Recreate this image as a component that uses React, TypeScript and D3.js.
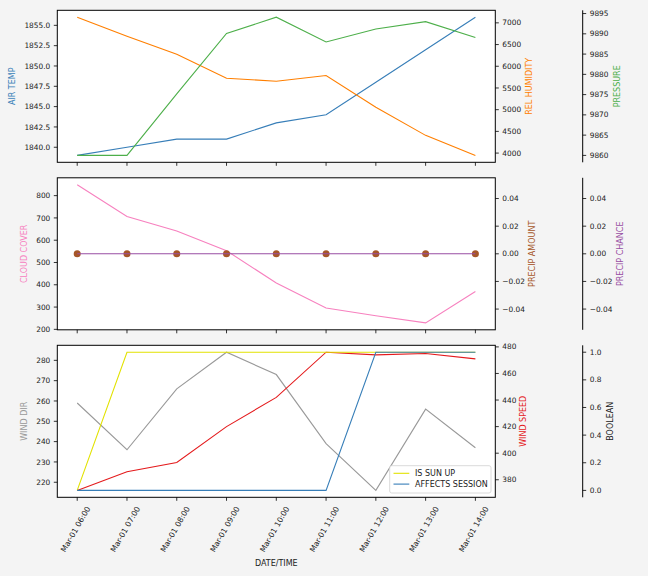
import React from "react";
import * as d3 from "d3";

const times = [
  "2024-03-01T06:00", "2024-03-01T07:00", "2024-03-01T08:00", "2024-03-01T09:00",
  "2024-03-01T10:00", "2024-03-01T11:00", "2024-03-01T12:00", "2024-03-01T13:00",
  "2024-03-01T14:00",
];
const airTemp = [1839, 1840, 1841, 1841, 1843, 1844, 1848, 1852, 1856];
const relHumidity = [7130, 6693, 6278, 5724, 5655, 5786, 5054, 4408, 3947];
const pressure = [9860, 9860, 9875.2, 9890.1, 9894.1, 9888.0, 9891.2, 9893.0, 9889.1];
const cloudCover = [849, 706, 641, 553, 408, 296, 261, 229, 370];
const precipAmount = [0, 0, 0, 0, 0, 0, 0, 0, 0];
const precipChance = [0, 0, 0, 0, 0, 0, 0, 0, 0];
const windDir = [259, 236, 266, 284, 273, 239, 216, 256, 237];
const windSpeed = [372, 386, 393, 420, 442, 476, 474, 475, 471];
const isSunUp = [0, 1, 1, 1, 1, 1, 1, 1, 1];
const affectsSession = [0, 0, 0, 0, 0, 0, 1, 1, 1];

const airTempTicks = [1840, 1842.5, 1845, 1847.5, 1850, 1852.5, 1855];
const relHumTicks = [4000, 4500, 5000, 5500, 6000, 6500, 7000];
const pressureTicks = [9860, 9865, 9870, 9875, 9880, 9885, 9890, 9895];
const cloudTicks = [200, 300, 400, 500, 600, 700, 800];
const precipTicks = [-0.04, -0.02, 0, 0.02, 0.04];
const windDirTicks = [220, 230, 240, 250, 260, 270, 280];
const windSpeedTicks = [380, 400, 420, 440, 460, 480];
const boolTicks = [0, 0.2, 0.4, 0.6, 0.8, 1.0];

const C = {
  blue: "#377eb8",
  orange: "#ff7f00",
  green: "#4daf4a",
  pink: "#f781bf",
  brown: "#a65628",
  purple: "#984ea3",
  gray: "#999999",
  red: "#e41a1c",
  yellow: "#e2e200",
};

const W = 648, H = 576;
const L = 57.3, R = 495.3, SP = 582.7;
const PH = 152;
const tops = [10.3, 177.8, 345.3];
const FONT = "DejaVu Sans, sans-serif";
const TF = 7.4;
const XF = 7.7;
const LF = 8;

const dates = times.map((t) => new Date(t));
const step = 3600 * 1000;
const x = d3
  .scaleTime()
  .domain([new Date(+dates[0] - 0.4 * step), new Date(+dates[dates.length - 1] + 0.4 * step)])
  .range([L, R]);
const fmtDate = d3.timeFormat("%b-%d %H:%M");

function padDomain(vals: number[], fallback?: [number, number]): [number, number] {
  const mn = d3.min(vals)!, mx = d3.max(vals)!;
  if (mx === mn) return fallback || [mn - 0.055, mn + 0.055];
  const m = (mx - mn) * 0.05;
  return [mn - m, mx + m];
}

function yScale(vals: number[], top: number, fallback?: [number, number]) {
  return d3.scaleLinear().domain(padDomain(vals, fallback)).range([top + PH, top]);
}

function YAxis({ scale, ticks, fmt, side, xPos, spine }: any) {
  const dir = side === "left" ? -1 : 1;
  const [r0, r1] = scale.range();
  return (
    <g>
      {spine && <line x1={xPos} x2={xPos} y1={r0} y2={r1} stroke="#000" strokeWidth={1} />}
      {ticks.map((t: number) => {
        const y = scale(t);
        return (
          <g key={t}>
            <line x1={xPos} x2={xPos + dir * 3.5} y1={y} y2={y} stroke="#000" strokeWidth={0.8} />
            <text
              x={xPos + dir * 7}
              y={y}
              dy="0.35em"
              textAnchor={side === "left" ? "end" : "start"}
              fontSize={TF}
              fontFamily={FONT}
              fill="#222"
            >
              {fmt(t)}
            </text>
          </g>
        );
      })}
    </g>
  );
}

function YLabel({ text, xPos, top, color }: any) {
  const cy = top + PH / 2;
  return (
    <text
      transform={`translate(${xPos},${cy}) rotate(-90)`}
      textAnchor="middle"
      dominantBaseline="central"
      fontSize={LF}
      fontFamily={FONT}
      fill={color}
    >
      {text}
    </text>
  );
}

function Series({ scale, vals, color }: any) {
  const line = d3
    .line<number>()
    .x((_, i) => x(dates[i]))
    .y((v) => scale(v));
  return <path d={line(vals) || ""} fill="none" stroke={color} strokeWidth={1.1} />;
}

function Frame({ top, showXLabels }: any) {
  return (
    <g>
      {dates.map((d, i) => (
        <line key={i} x1={x(d)} x2={x(d)} y1={top + PH} y2={top + PH + 3.5} stroke="#000" strokeWidth={0.8} />
      ))}
      {showXLabels &&
        dates.map((d, i) => (
          <text
            key={"l" + i}
            transform={`translate(${x(d) - 1.5},${top + PH + 32}) rotate(-60)`}
            textAnchor="middle"
            dominantBaseline="central"
            fontSize={XF}
            fontFamily={FONT}
            fill="#222"
          >
            {fmtDate(d)}
          </text>
        ))}
    </g>
  );
}

export default function App() {
  const t0 = tops[0], t1 = tops[1], t2 = tops[2];
  const yAir = yScale(airTemp, t0);
  const yHum = yScale(relHumidity, t0);
  const yPres = yScale(pressure, t0);
  const yCloud = yScale(cloudCover, t1);
  const yPA = yScale(precipAmount, t1);
  const yPC = yScale(precipChance, t1);
  const yWD = yScale(windDir, t2);
  const yWS = yScale(windSpeed, t2);
  const yB = d3.scaleLinear().domain([-0.05, 1.05]).range([t2 + PH, t2]);

  const f1 = d3.format(".1f");
  const f0 = d3.format("d");
  const f2 = d3.format(".2f");

  return (
    <svg width={W} height={H} style={{ position: "absolute", left: 0, top: 0 }} xmlns="http://www.w3.org/2000/svg">
      <rect x={0} y={0} width={W} height={H} fill="#f4f4f4" />
      {tops.map((t, i) => (
        <rect key={i} x={L} y={t} width={R - L} height={PH} fill="#fff" />
      ))}

      {/* Panel 1 */}
      <Series scale={yAir} vals={airTemp} color={C.blue} />
      <Series scale={yHum} vals={relHumidity} color={C.orange} />
      <Series scale={yPres} vals={pressure} color={C.green} />
      <YAxis scale={yAir} ticks={airTempTicks} fmt={f1} side="left" xPos={L} />
      <YAxis scale={yHum} ticks={relHumTicks} fmt={f0} side="right" xPos={R} />
      <YAxis scale={yPres} ticks={pressureTicks} fmt={f0} side="right" xPos={SP} spine />
      <YLabel text="AIR TEMP" xPos={12.5} top={t0} color={C.blue} />
      <YLabel text="REL HUMIDITY" xPos={529.5} top={t0} color={C.orange} />
      <YLabel text="PRESSURE" xPos={617} top={t0} color={C.green} />
      <Frame top={t0} />

      {/* Panel 2 */}
      <Series scale={yCloud} vals={cloudCover} color={C.pink} />
      {precipAmount.map((v, i) => (
        <circle key={i} cx={x(dates[i])} cy={yPA(v)} r={3.5} fill={C.brown} />
      ))}
      <Series scale={yPC} vals={precipChance} color={C.purple} />
      <YAxis scale={yCloud} ticks={cloudTicks} fmt={f0} side="left" xPos={L} />
      <YAxis scale={yPA} ticks={precipTicks} fmt={f2} side="right" xPos={R} />
      <YAxis scale={yPC} ticks={precipTicks} fmt={f2} side="right" xPos={SP} spine />
      <YLabel text="CLOUD COVER" xPos={24} top={t1} color={C.pink} />
      <YLabel text="PRECIP AMOUNT" xPos={532.5} top={t1} color={C.brown} />
      <YLabel text="PRECIP CHANCE" xPos={620.5} top={t1} color={C.purple} />
      <Frame top={t1} />

      {/* Panel 3 */}
      <Series scale={yWD} vals={windDir} color={C.gray} />
      <Series scale={yWS} vals={windSpeed} color={C.red} />
      <Series scale={yB} vals={isSunUp} color={C.yellow} />
      <Series scale={yB} vals={affectsSession} color={C.blue} />
      <YAxis scale={yWD} ticks={windDirTicks} fmt={f0} side="left" xPos={L} />
      <YAxis scale={yWS} ticks={windSpeedTicks} fmt={f0} side="right" xPos={R} />
      <YAxis scale={yB} ticks={boolTicks} fmt={f1} side="right" xPos={SP} spine />
      <YLabel text="WIND DIR" xPos={24} top={t2} color={C.gray} />
      <YLabel text="WIND SPEED" xPos={523.5} top={t2} color={C.red} />
      <YLabel text="BOOLEAN" xPos={610} top={t2} color="#222" />
      <Frame top={t2} showXLabels />

      {/* Legend */}
      <g>
        <rect x={389.7} y={465.7} width={101.3} height={27.3} rx={2} fill="#fff" fillOpacity={0.85} stroke="#d0d0d0" strokeWidth={0.8} />
        {[
          { label: "IS SUN UP", color: C.yellow },
          { label: "AFFECTS SESSION", color: C.blue },
        ].map((e, i) => {
          const y = 473.3 + i * 10.8;
          return (
            <g key={e.label}>
              <line x1={393.5} x2={409.3} y1={y} y2={y} stroke={e.color} strokeWidth={1.1} />
              <text x={415} y={y} dy="0.35em" fontSize={LF} fontFamily={FONT} fill="#222">
                {e.label}
              </text>
            </g>
          );
        })}
      </g>

      {/* Frames */}
      {tops.map((t, i) => (
        <rect key={"f" + i} x={L} y={t} width={R - L} height={PH} fill="none" stroke="#000" strokeWidth={1} />
      ))}

      <text x={(L + R) / 2} y={563} textAnchor="middle" dominantBaseline="central" fontSize={LF} fontFamily={FONT} fill="#222">
        DATE/TIME
      </text>
    </svg>
  );
}
